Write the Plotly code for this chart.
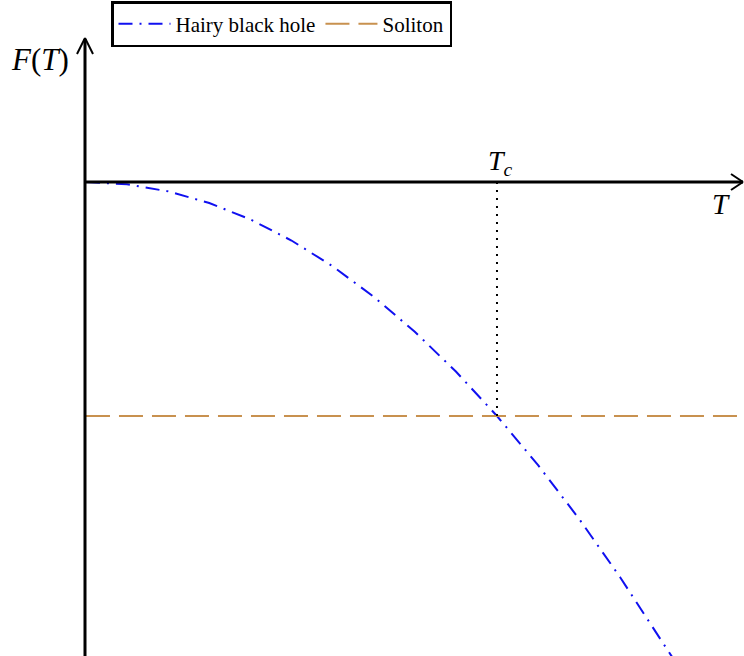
import plotly.graph_objects as go

# Data (T in units of Tc, F in units of |F_soliton|)
T_hairy = [0.0, 0.1, 0.2, 0.3, 0.4, 0.5, 0.6, 0.7, 0.8, 0.9, 1.0, 1.1, 1.2, 1.3, 1.4, 1.43]
F_hairy = [0.0, -0.01, -0.04, -0.09, -0.16, -0.25, -0.36, -0.49, -0.64, -0.81, -1.0, -1.21, -1.44, -1.69, -1.96, -2.04]
T_soliton = [0.0, 1.6]
F_soliton = [-1.0, -1.0]
Tc = 1.0
Fc = -1.0

W, H = 744, 656
x0, x1 = -0.2092, 1.601
y0, y1 = -2.0256, 0.7778

fig = go.Figure()
fig.add_trace(go.Scatter(x=T_hairy, y=F_hairy, mode="lines", name="Hairy black hole",
                         line=dict(color="#1010f0", width=2, dash="14px,7px,2px,7px")))
fig.add_trace(go.Scatter(x=T_soliton, y=F_soliton, mode="lines", name="Soliton",
                         line=dict(color="#c8914f", width=2, dash="24px,9px")))
# dotted vertical line at Tc
fig.add_trace(go.Scatter(x=[Tc, Tc], y=[0, Fc], mode="lines", showlegend=False,
                         line=dict(color="black", width=2, dash="2px,6px")))

shapes = []
def pline(xa, ya, xb, yb, w=3):
    shapes.append(dict(type="line", xref="paper", yref="paper",
                       x0=xa / W, y0=1 - ya / H, x1=xb / W, y1=1 - yb / H,
                       line=dict(color="black", width=w)))
# axes
pline(85, 182, 743, 182)
pline(85, 656, 85, 39)
# arrowheads (open chevrons)
pline(743, 182, 731, 174, 2)
pline(743, 182, 731, 190, 2)
pline(85, 38, 77, 54, 2)
pline(85, 38, 93, 54, 2)

def ann(text, px, py, size):
    return dict(xref="paper", yref="paper", x=px / W, y=1 - py / H, showarrow=False,
                xanchor="center", yanchor="middle", text=text,
                font=dict(family="Liberation Serif", size=size, color="black"))
annotations = [
    ann("<i>T</i><sub><i>c</i></sub>", 501, 162, 28),
    ann("<i>T</i>", 721, 204, 29),
    ann("<i>F</i>(<i>T</i>)", 40, 60, 31),
]

fig.update_layout(
    width=W, height=H,
    margin=dict(l=0, r=0, t=0, b=0),
    paper_bgcolor="white", plot_bgcolor="white",
    xaxis=dict(range=[x0, x1], visible=False, fixedrange=True),
    yaxis=dict(range=[y0, y1], visible=False, fixedrange=True),
    shapes=shapes, annotations=annotations,
    legend=dict(orientation="h", x=111 / W, y=1 - 1 / H, xanchor="left", yanchor="top",
                bordercolor="black", borderwidth=2.5, bgcolor="white",
                font=dict(family="Liberation Serif", size=21, color="black"),
                itemwidth=52, tracegroupgap=0),
    showlegend=True,
)

fig.write_html("out.html", config={"displayModeBar": False},
               post_script="document.body.style.margin='0px';")
